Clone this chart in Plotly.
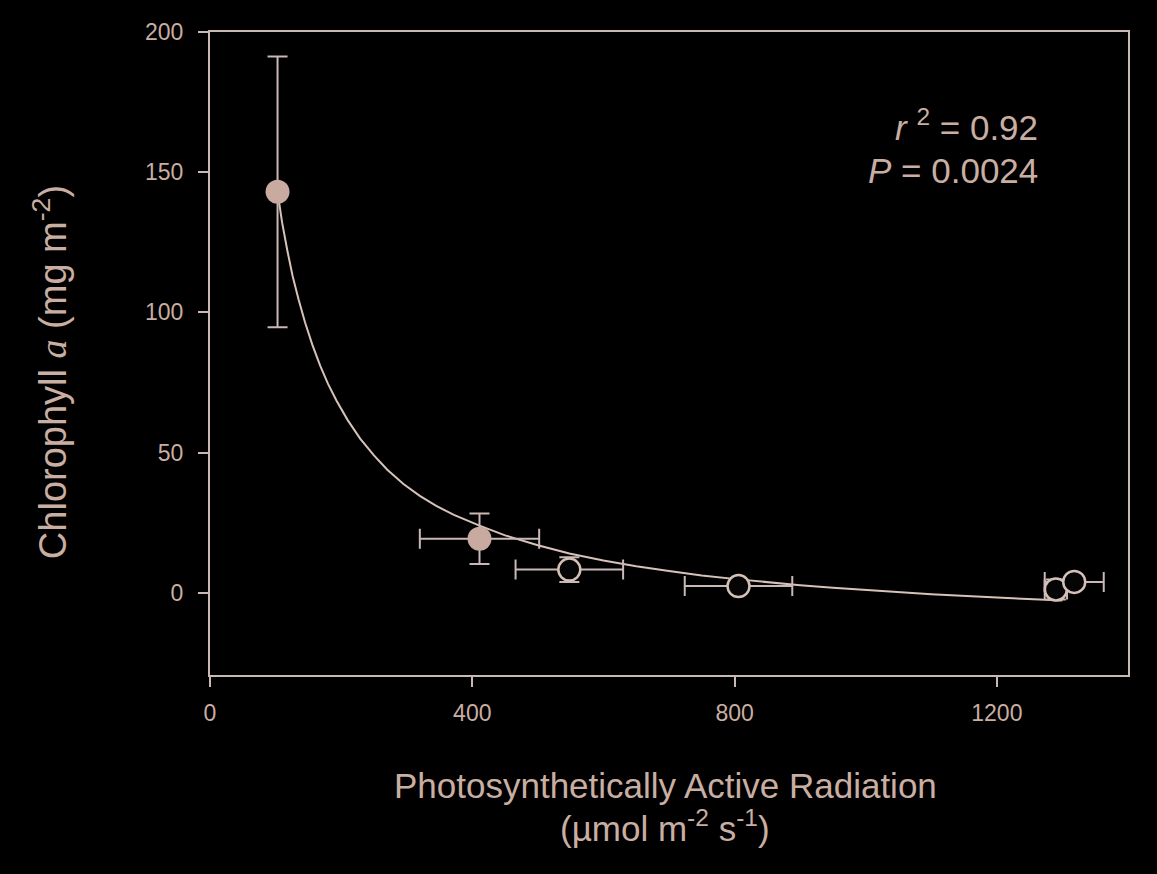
import plotly.graph_objects as go

# Data
par_filled = [103, 411]
chl_filled = [143.0, 19.3]
chl_err_filled = [48.3, 9.0]
par_err_filled = [0, 91]

par_open = [548, 806, 1290, 1318]
chl_open = [8.3, 2.4, 1.2, 3.9]
chl_err_open = [4.4, 0, 3.6, 0]
par_err_open = [82, 82, 17, 45]

# fitted curve
fit_x = [103, 110, 118, 126, 135, 145, 156, 168, 180, 193, 210, 229, 250, 270, 295, 320, 345,
         372, 412, 450, 500, 548, 600, 650, 700, 750, 806, 850, 900, 950, 1000, 1100, 1200, 1300]
fit_y = [143, 132, 122, 113, 104.7, 96.4, 88.5, 81, 74.5, 68.5, 61.6, 55, 49, 44, 38.8, 34.6, 31,
         27.8, 23.9, 20.5, 17, 14, 11.5, 9.5, 7.8, 6.2, 4.8, 3.8, 2.7, 1.8, 1.0, -0.5, -1.7, -2.7]

x_ticks = [0, 400, 800, 1200]
y_ticks = [0, 50, 100, 150, 200]

TEXT = "#c9aea2"
AXIS = "#c8b8b6"
FILL = "#c8aaa0"
LINE = "#d6c2b8"
FONT = "Liberation Sans, Arial, sans-serif"

fig = go.Figure()

fig.add_trace(go.Scatter(
    x=fit_x, y=fit_y, mode="lines", line=dict(color=LINE, width=2),
    hoverinfo="skip", showlegend=False))

fig.add_trace(go.Scatter(
    x=par_filled, y=chl_filled, mode="markers",
    marker=dict(size=24, color=FILL, line=dict(width=0)),
    error_y=dict(type="data", array=chl_err_filled, color=AXIS, thickness=2, width=10),
    error_x=dict(type="data", array=par_err_filled, color=AXIS, thickness=2, width=10),
    showlegend=False))

fig.add_trace(go.Scatter(
    x=par_open, y=chl_open, mode="markers",
    marker=dict(size=22, color="#050505", line=dict(width=2.5, color="#d4c0b6")),
    error_y=dict(type="data", array=chl_err_open, color=AXIS, thickness=2, width=10),
    error_x=dict(type="data", array=par_err_open, color=AXIS, thickness=2, width=10),
    showlegend=False))

axis_common = dict(
    showgrid=False, zeroline=False, showline=True, linecolor=AXIS, linewidth=2,
    mirror=True, ticks="outside", ticklen=10, tickwidth=2, tickcolor=AXIS,
    tickfont=dict(family=FONT, size=23, color=TEXT),
)

fig.update_xaxes(range=[0, 1400], tickvals=x_ticks, ticktext=[str(v) for v in x_ticks],
                 ticklabelstandoff=6, **axis_common)
fig.update_yaxes(range=[-29.3, 200], tickvals=y_ticks, ticktext=[str(v) for v in y_ticks],
                 ticklabelstandoff=10, **axis_common)

fig.add_annotation(
    text="Photosynthetically Active Radiation",
    xref="paper", yref="paper", x=0.496, y=-0.1726, xanchor="center", yanchor="middle",
    showarrow=False, font=dict(family=FONT, size=35, color=TEXT))
fig.add_annotation(
    text="(µmol m<sup>-2</sup> s<sup>-1</sup>)",
    xref="paper", yref="paper", x=0.496, y=-0.2348, xanchor="center", yanchor="middle",
    showarrow=False, font=dict(family=FONT, size=35, color=TEXT))

fig.add_annotation(
    text="Chlorophyll <span style='font-family:Liberation Serif'><i>a</i></span> (mg m<sup>-2</sup>)",
    xref="paper", yref="paper", x=-0.1743, y=0.471, xanchor="center", yanchor="middle",
    textangle=-90, showarrow=False, font=dict(family=FONT, size=38, color=TEXT))

fig.add_annotation(
    text="<i>r</i> <sup>2</sup> = 0.92", xref="paper", yref="paper",
    x=0.904, y=0.855, xanchor="right", yanchor="middle",
    showarrow=False, font=dict(family=FONT, size=35, color=TEXT))
fig.add_annotation(
    text="<i>P</i> = 0.0024", xref="paper", yref="paper",
    x=0.904, y=0.784, xanchor="right", yanchor="middle",
    showarrow=False, font=dict(family=FONT, size=35, color=TEXT))

fig.update_layout(
    width=1157, height=874,
    margin=dict(l=210, r=29, t=32, b=199),
    paper_bgcolor="black", plot_bgcolor="black",
    font=dict(family=FONT, color=TEXT),
)

fig.write_html("out.html")
